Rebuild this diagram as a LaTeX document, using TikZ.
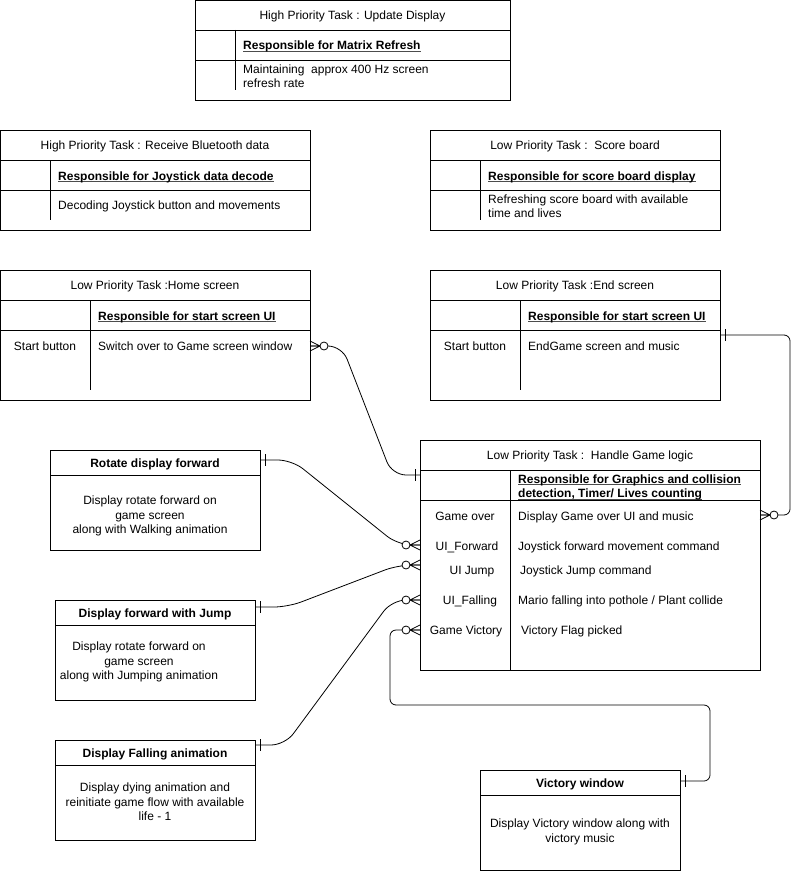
\documentclass[tikz,border=0pt]{standalone}
\usepackage{fontspec}
\setmainfont{Liberation Sans}
\newcommand\myul[1]{\sbox0{#1}\rlap{\color{black!70}\rule[-1.6pt]{\wd0}{0.8pt}}\usebox0}
\begin{document}
\begin{tikzpicture}[x=1pt,y=-1pt,
  font=\fontsize{12}{14.5}\selectfont,
  ln/.style={line width=0.8pt},
  box/.style={draw, line width=0.8pt, inner sep=0, anchor=north west, fill=white},
  txt/.style={inner sep=0, anchor=west, align=left, text height=11pt, text depth=2pt},
  mtxt/.style={inner sep=0, anchor=west, align=left},
  ctxt/.style={inner sep=0, align=center, text height=11pt, text depth=2pt},
  mctxt/.style={inner sep=0, align=center},
  hdr/.style={inner sep=0, align=center, text height=11pt, text depth=2pt},
  bhdr/.style={inner sep=0, align=center, text height=11pt, text depth=2pt, font=\fontsize{12}{14.5}\selectfont\bfseries},
  conn/.style={line width=0.8pt, rounded corners=14pt},
  connsq/.style={line width=0.8pt, rounded corners=6pt},
  zmany/.pic={
    \draw[ln] (-10,0) -- (0,-5) (-10,0) -- (0,0) (-10,0) -- (0,5);
    \draw[ln, fill=white] (-14,0) circle (4);
  },
  oneb/.pic={
    \draw[ln] (-5,-6) -- (-5,6);
  }
]
\useasboundingbox (0,0) rectangle (800,872);

% ---------- Update Display ----------
\node[box, minimum width=315, minimum height=100] (ud) at (195,0) {};
\draw[ln] (195,30) -- (510,30) (195,60) -- (510,60) (235,30) -- (235,90);
\node[hdr] (udh) at (352.5,15) {High Priority Task : Update Display};
\node[txt] (ud1) at (243,45.5) {\textbf{\myul{Responsible for Matrix Refresh}}};
\node[mtxt] (ud2) at (243,76) {Maintaining\ \ approx 400 Hz screen\\refresh rate};

% ---------- Bluetooth ----------
\node[box, minimum width=310, minimum height=100] (bt) at (0,130) {};
\draw[ln] (0,160) -- (310,160) (0,190) -- (310,190) (50,160) -- (50,220);
\node[hdr] (bth) at (155,145) {High Priority Task : Receive Bluetooth data};
\node[txt] (bt1) at (58,175.5) {\textbf{\myul{Responsible for Joystick data decode}}};
\node[txt] (bt2) at (58,205) {Decoding Joystick button and movements};

% ---------- Score board ----------
\node[box, minimum width=290, minimum height=100] (sb) at (430,130) {};
\draw[ln] (430,160) -- (720,160) (430,190) -- (720,190) (480,160) -- (480,220);
\node[hdr] (sbh) at (575,145) {Low Priority Task :\ \ Score board};
\node[txt] (sb1) at (488,175.5) {\textbf{\myul{Responsible for score board display}}};
\node[mtxt] (sb2) at (488,206) {Refreshing score board with available\\time and lives};

% ---------- Home screen ----------
\node[box, minimum width=310, minimum height=130] (hs) at (0,270) {};
\draw[ln] (0,300) -- (310,300) (0,330) -- (310,330) (90,300) -- (90,390);
\node[hdr] (hsh) at (155,285) {Low Priority Task :Home screen};
\node[txt] (hs1) at (98,315.5) {\textbf{\myul{Responsible for start screen UI}}};
\node[ctxt] (hs2) at (45,345.5) {Start button};
\node[txt] (hs3) at (98,345.5) {Switch over to Game screen window};
\coordinate (hsR) at (310,346);

% ---------- End screen ----------
\node[box, minimum width=290, minimum height=130] (es) at (430,270) {};
\draw[ln] (430,300) -- (720,300) (430,330) -- (720,330) (520,300) -- (520,390);
\node[hdr] (esh) at (575,285) {Low Priority Task :End screen};
\node[txt] (es1) at (528,315.5) {\textbf{\myul{Responsible for start screen UI}}};
\node[ctxt] (es2) at (475,345.5) {Start button};
\node[txt] (es3) at (528,345.5) {EndGame screen and music};
\coordinate (esR) at (720,335);

% ---------- Game logic ----------
\node[box, minimum width=340, minimum height=230] (gl) at (420,440) {};
\draw[ln] (420,470) -- (760,470) (420,500) -- (760,500) (510,470) -- (510,670);
\node[hdr] (glh) at (590,455) {Low Priority Task :\ \ Handle Game logic};
\node[mtxt] (gl1) at (518,487.5) {\textbf{\myul{Responsible for Graphics and collision}}\\\textbf{\myul{detection, Timer/ Lives counting}}};
\node[ctxt] (gla) at (465,516) {Game over};
\node[txt] (glA) at (518,516) {Display Game over UI and music};
\node[ctxt] (glb) at (467,546) {UI\_Forward};
\node[txt] (glB) at (518,546) {Joystick forward movement command};
\node[ctxt] (glc) at (472,570) {UI Jump};
\node[txt] (glC) at (520,570) {Joystick Jump command};
\node[ctxt] (gld) at (470,600) {UI\_Falling};
\node[txt] (glD) at (518,600) {Mario falling into pothole / Plant collide};
\node[ctxt] (gle) at (466,630) {Game Victory};
\node[txt] (glE) at (521,630) {Victory Flag picked};
\coordinate (glTop) at (420,475);
\coordinate (glOver) at (760,515);
\coordinate (glFwd) at (420,545);
\coordinate (glJump) at (420,565);
\coordinate (glFall) at (420,600);
\coordinate (glVic) at (420,630);

% ---------- Rotate display forward ----------
\node[box, minimum width=210, minimum height=100] (rd) at (50,450) {};
\draw[ln] (50,475) -- (260,475);
\node[bhdr] (rdh) at (155,462.5) {Rotate display forward};
\node[mctxt] (rd1) at (150,516) {Display rotate forward on\\game screen\\along with Walking animation};
\coordinate (rdR) at (260,460);

% ---------- Display forward with Jump ----------
\node[box, minimum width=200, minimum height=100] (dj) at (55,600) {};
\draw[ln] (55,625) -- (255,625);
\node[bhdr] (djh) at (155,612.5) {Display forward with Jump};
\node[mctxt] (dj1) at (139,662) {Display rotate forward on\\game screen\\along with Jumping animation};
\coordinate (djR) at (255,607);

% ---------- Display Falling animation ----------
\node[box, minimum width=200, minimum height=100] (df) at (55,740) {};
\draw[ln] (55,765) -- (255,765);
\node[bhdr] (dfh) at (155,752.5) {Display Falling animation};
\node[mctxt] (df1) at (155,802) {Display dying animation and\\reinitiate game flow with available\\life - 1};
\coordinate (dfR) at (255,745);

% ---------- Victory window ----------
\node[box, minimum width=200, minimum height=100] (vw) at (480,770) {};
\draw[ln] (480,795) -- (680,795);
\node[bhdr] (vwh) at (580,782.5) {Victory window};
\node[mctxt] (vw1) at (580,832) {Display Victory window along with\\victory music};
\coordinate (vwR) at (680,781);

% ---------- Connectors ----------
\draw[conn] (hsR) -- (342,346) -- (392,475) -- (glTop);
\draw[conn] (rdR) -- (292,460) -- (398,545) -- (glFwd);
\draw[conn] (djR) -- (288,607) -- (398,565) -- (glJump);
\draw[conn] (dfR) -- (285,745) -- (392,600) -- (glFall);
\draw[connsq] (vwR) -- (710,781) -- (710,705) -- (390,705) -- (390,630) -- (glVic);
\draw[connsq] (esR) -- (790,335) -- (790,515) -- (glOver);

% ---------- Ends ----------
\pic[xscale=-1] at (hsR) {zmany};
\pic at (glTop) {oneb};
\pic[xscale=-1] at (rdR) {oneb};
\pic at (glFwd) {zmany};
\pic[xscale=-1] at (djR) {oneb};
\pic at (glJump) {zmany};
\pic[xscale=-1] at (dfR) {oneb};
\pic at (glFall) {zmany};
\pic[xscale=-1] at (vwR) {oneb};
\pic at (glVic) {zmany};
\pic[xscale=-1] at (esR) {oneb};
\pic[xscale=-1] at (glOver) {zmany};
\end{tikzpicture}
\end{document}
